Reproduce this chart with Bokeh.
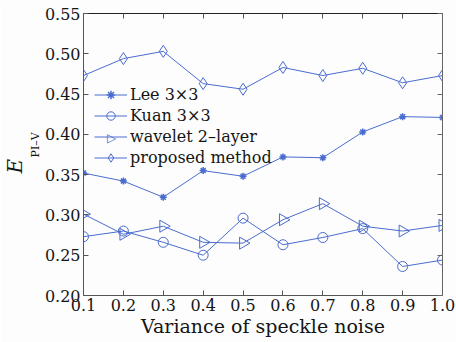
import math
from bokeh.plotting import figure
from bokeh.models import Label, LinearAxis, FixedTicker, Legend, LegendItem, Range1d, Title
from bokeh.embed import file_html
from bokeh.resources import INLINE

x = [0.1, 0.2, 0.3, 0.4, 0.5, 0.6, 0.7, 0.8, 0.9, 1.0]
lee = [0.352, 0.342, 0.322, 0.355, 0.348, 0.372, 0.371, 0.403, 0.422, 0.421]
kuan = [0.273, 0.280, 0.266, 0.250, 0.296, 0.263, 0.272, 0.283, 0.236, 0.244]
wavelet = [0.301, 0.276, 0.286, 0.266, 0.265, 0.294, 0.314, 0.286, 0.280, 0.287]
proposed = [0.473, 0.494, 0.503, 0.463, 0.456, 0.483, 0.473, 0.482, 0.464, 0.473]
x_ticks = [0.1, 0.2, 0.3, 0.4, 0.5, 0.6, 0.7, 0.8, 0.9, 1.0]
y_ticks = [0.20, 0.25, 0.30, 0.35, 0.40, 0.45, 0.50, 0.55]
names = ["Lee 3\u00d73", "Kuan 3\u00d73", "wavelet 2\u2013layer", "proposed method"]

C = "#4a6ccf"
FONT = "DejaVu Serif"
TXT = "#151515"

p = figure(frame_width=359, frame_height=282, width=456, height=342,
           output_backend="svg", toolbar_location=None,
           x_range=Range1d(0.1, 1.0), y_range=Range1d(0.20, 0.55),
           min_border_left=0, min_border_right=16, min_border_top=13, min_border_bottom=47)
p.background_fill_color = "#fdfdfd"
p.border_fill_color = "#fdfdfd"
p.grid.visible = False
p.outline_line_color = None

for ax in (p.xaxis[0], p.yaxis[0]):
    ax.major_tick_in = 5
    ax.major_tick_out = 0
    ax.minor_tick_line_color = None
    ax.axis_line_color = "#555555"
    ax.major_tick_line_color = "#555555"
    ax.major_label_text_font = FONT
    ax.major_label_text_font_size = "16px"
    ax.major_label_text_color = TXT
p.xaxis[0].ticker = FixedTicker(ticks=x_ticks)
p.yaxis[0].ticker = FixedTicker(ticks=y_ticks)
p.xaxis[0].major_label_overrides = {t: f"{t:.1f}" for t in x_ticks}
p.yaxis[0].major_label_overrides = {t: f"{t:.2f}" for t in y_ticks}
p.xaxis[0].major_label_standoff = 3
p.yaxis[0].major_label_standoff = 3
p.xaxis[0].axis_label = "Variance of speckle noise"
p.xaxis[0].axis_label_text_font = FONT
p.xaxis[0].axis_label_text_font_style = "normal"
p.xaxis[0].axis_label_text_font_size = "19px"
p.xaxis[0].axis_label_text_color = TXT
p.xaxis[0].axis_label_standoff = 1

top = LinearAxis(ticker=FixedTicker(ticks=x_ticks),
                 major_label_overrides={t: "" for t in x_ticks},
                 major_tick_in=5, major_tick_out=0, minor_tick_line_color=None,
                 axis_line_color="#222222", major_tick_line_color="#555555")
right = LinearAxis(ticker=FixedTicker(ticks=y_ticks),
                   major_label_overrides={t: "" for t in y_ticks},
                   major_tick_in=5, major_tick_out=0, minor_tick_line_color=None,
                   axis_line_color="#666666", major_tick_line_color="#666666")
p.add_layout(top, "above")
p.add_layout(right, "right")

# y-axis title E_{PI-V}: subscript next to the axis, E further out
p.add_layout(Title(text="PI\u2013V", align="left", offset=138, standoff=0,
                   text_font=FONT, text_font_size="11px", text_font_style="normal",
                   text_color=TXT), "left")
p.add_layout(Title(text="E", align="left", offset=122, standoff=0,
                   text_font=FONT, text_font_size="20px", text_font_style="italic",
                   text_color=TXT), "left")

r_lee_l = p.line(x, lee, color=C, line_width=1)
r_lee_m = p.scatter(x, lee, marker="asterisk", size=7, line_color=C, line_width=1.5)
r_kuan_l = p.line(x, kuan, color=C, line_width=1)
r_kuan_m = p.scatter(x, kuan, marker="circle", size=10, line_color=C, fill_color=None, line_width=1)
r_wav_l = p.line(x, wavelet, color=C, line_width=1)
r_wav_m = p.scatter(x, wavelet, marker="triangle", angle=-math.pi / 2, size=12, line_color=C, fill_color=None, line_width=1)
r_pro_l = p.line(x, proposed, color=C, line_width=1)
r_pro_m = p.scatter(x, proposed, marker="diamond", size=12, line_color=C, fill_color=None, line_width=1)

legend = Legend(items=[
    LegendItem(label=names[0], renderers=[r_lee_l, r_lee_m]),
    LegendItem(label=names[1], renderers=[r_kuan_l, r_kuan_m]),
    LegendItem(label=names[2], renderers=[r_wav_l]),
    LegendItem(label=names[3], renderers=[r_pro_l, r_pro_m]),
], location=(11, 127))
legend.background_fill_alpha = 0
legend.border_line_color = None
legend.padding = 0
legend.margin = 0
legend.spacing = 0
legend.label_height = 21
legend.glyph_height = 21
legend.glyph_width = 33
legend.label_standoff = 3
legend.label_text_font = FONT
legend.label_text_font_size = "16px"
legend.label_text_color = TXT
p.add_layout(legend)

# right-pointing triangle symbol for the wavelet legend entry
p.add_layout(Label(x=28, y=158, x_units="screen", y_units="screen", text="\u25b7",
                   text_font="DejaVu Sans", text_font_size="12px",
                   text_align="center", text_baseline="middle", text_color=C,
                   background_fill_color="#fdfdfd"))

open("out.html", "w").write(file_html(p, INLINE))
